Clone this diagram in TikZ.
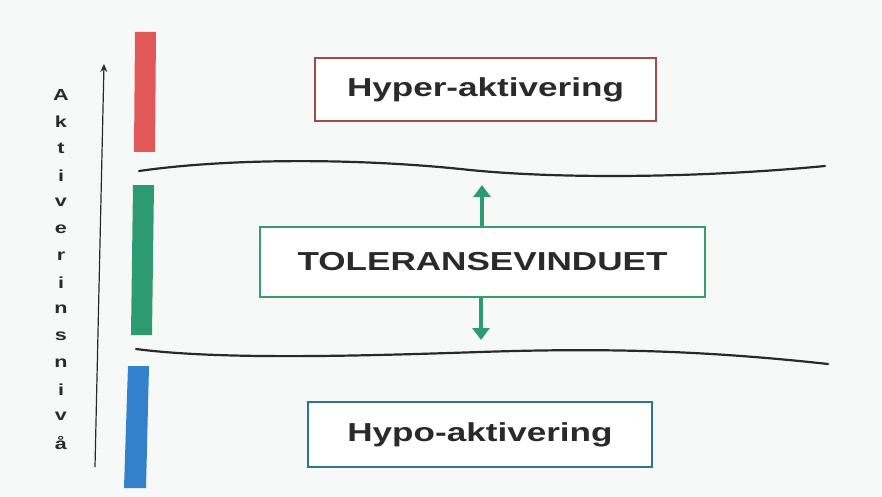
\documentclass[tikz,border=0pt]{standalone}
\usepackage{fontspec}
\setmainfont{Liberation Sans}
\newfontfamily\boxfont{Liberation Sans}[FakeStretch=1.35]
\usetikzlibrary{arrows.meta}
\definecolor{bg}{HTML}{F7F9F9}
\definecolor{redbar}{HTML}{E05858}
\definecolor{greenbar}{HTML}{2E9A72}
\definecolor{bluebar}{HTML}{3380CC}
\definecolor{redline}{HTML}{A04A4A}
\definecolor{greenline}{HTML}{3A9A72}
\definecolor{blueline}{HTML}{2E7490}
\definecolor{txt}{HTML}{2A2A2A}
\tikzset{
  labelbox/.style={draw, line width=2.6pt, fill=white, inner sep=0pt, font=\boxfont\bfseries\fontsize{26}{30}\selectfont, text=txt},
  hyperbox/.style={labelbox, draw=redline, minimum width=341pt, minimum height=63pt},
  tolbox/.style={labelbox, draw=greenline, minimum width=445pt, minimum height=70pt},
  hypobox/.style={labelbox, draw=blueline, minimum width=344pt, minimum height=65pt},
  axisletter/.style={font=\boxfont\bfseries\fontsize{16}{18}\selectfont, text=txt, inner sep=0pt},
  wave/.style={draw=txt, line width=2.2pt, line cap=round},
  garrow/.style={draw=greenbar, line width=4.5pt, -{Triangle[width=17pt,length=12pt]}},
  axisarrow/.style={draw=txt, line width=1.2pt, -{Stealth[length=8pt,width=7pt]}}
}
\begin{document}
\begin{tikzpicture}[x=1pt,y=-1pt]
\fill[bg] (0,0) rectangle (882,497);
\useasboundingbox (0,0) rectangle (882,497);
% bars
\fill[redbar] (135,32) -- (156,32) -- (155,152) -- (134,152) -- cycle;
\fill[greenbar] (133,185) -- (154,185) -- (152,335) -- (131,335) -- cycle;
\fill[bluebar] (128,366) -- (149,366) -- (146,488) -- (124,488) -- cycle;
% axis
\coordinate (axbot) at (95,467);
\coordinate (axtop) at (104,64);
\draw[axisarrow] (axbot) -- (axtop);
\foreach \ch [count=\i] in {A,k,t,i,v,e,r,i,n,s,n,i,v,å}{
  \node[axisletter] (l\i) at (61,{95+26.8*(\i-1)}) {\ch};
}
% waves
\draw[wave] (139,171) .. controls (230,158) and (360,158) .. (470,170) .. controls (560,179) and (700,178) .. (825,166);
\draw[wave] (136,349) .. controls (220,360) and (360,356) .. (480,352) .. controls (600,348) and (700,350) .. (828,364);
% boxes
\node[hyperbox] (hyper) at (485.5,89.5) {Hyper-aktivering};
\node[tolbox] (tol) at (482.5,262) {TOLERANSEVINDUET};
\node[hypobox] (hypo) at (480,434.5) {Hypo-aktivering};
% arrows
\coordinate (uptip) at (482,185);
\coordinate (dntip) at (481,340);
\draw[garrow] (tol.north -| uptip) -- (uptip);
\draw[garrow] (tol.south -| dntip) -- (dntip);
\end{tikzpicture}
\end{document}
